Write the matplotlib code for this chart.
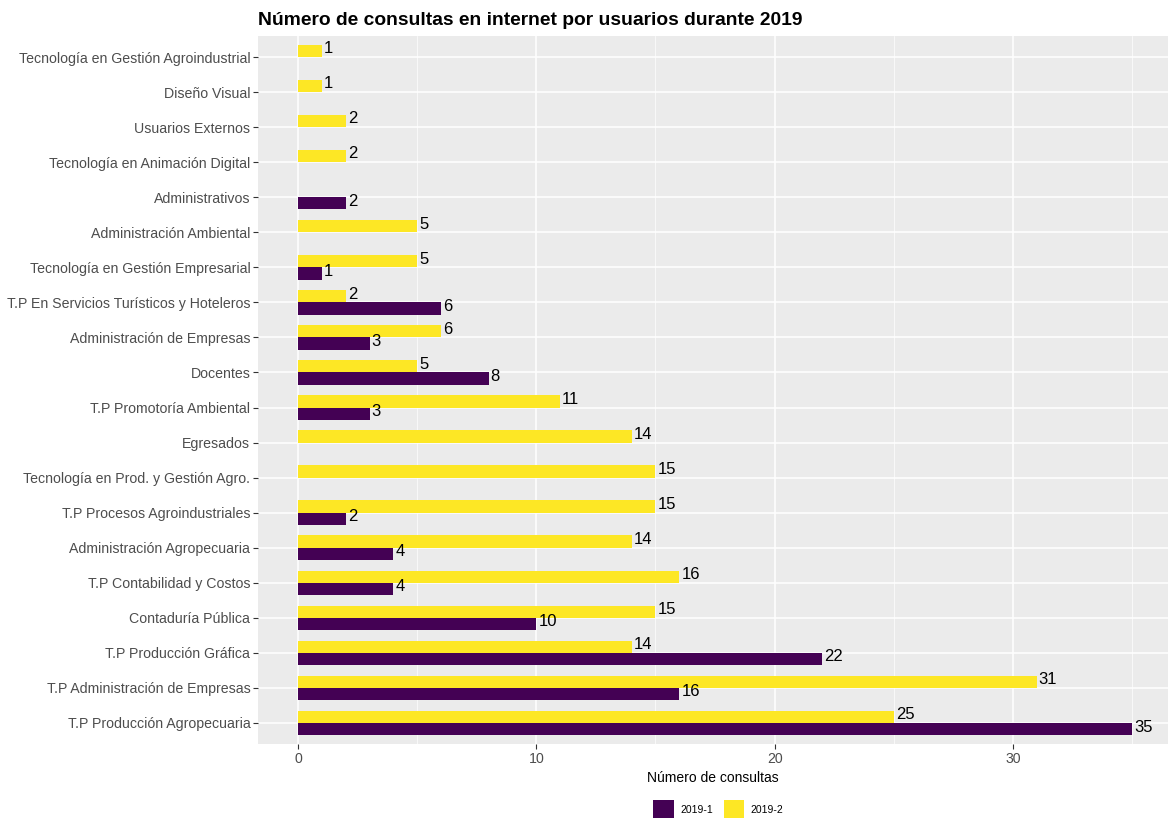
import matplotlib
matplotlib.use("Agg")
import matplotlib.pyplot as plt
from matplotlib.patches import Patch
import numpy as np

categories = [
    "Tecnología en Gestión Agroindustrial",
    "Diseño Visual",
    "Usuarios Externos",
    "Tecnología en Animación Digital",
    "Administrativos",
    "Administración Ambiental",
    "Tecnología en Gestión Empresarial",
    "T.P En Servicios Turísticos y Hoteleros",
    "Administración de Empresas",
    "Docentes",
    "T.P Promotoría Ambiental",
    "Egresados",
    "Tecnología en Prod. y Gestión Agro.",
    "T.P Procesos Agroindustriales",
    "Administración Agropecuaria",
    "T.P Contabilidad y Costos",
    "Contaduría Pública",
    "T.P Producción Gráfica",
    "T.P Administración de Empresas",
    "T.P Producción Agropecuaria",
]
s2019_1 = [None, None, None, None, 2, None, 1, 6, 3, 8, 3, None, None, 2, 4, 4, 10, 22, 16, 35]
s2019_2 = [1, 1, 2, 2, None, 5, 5, 2, 6, 5, 11, 14, 15, 15, 14, 16, 15, 14, 31, 25]
series_names = ["2019-1", "2019-2"]
colors = ["#440154", "#FDE725"]
x_ticks = [0, 10, 20, 30]

plt.rcParams['font.family'] = ['Liberation Sans', 'DejaVu Sans']

fig = plt.figure(figsize=(11.68, 8.18), dpi=100)
ax = fig.add_axes([258/1168, 1 - 744/818, (1168 - 258)/1168, (744 - 36)/818])
ax.set_facecolor("#EBEBEB")

n = len(categories)
ypos = np.arange(n)[::-1]  # top category at highest position
bw = 0.35
for vals, col, off in [(s2019_1, colors[0], -bw/2), (s2019_2, colors[1], bw/2)]:
    for y, v in zip(ypos, vals):
        if v is None:
            continue
        ax.barh(y + off, v, height=bw, color=col, zorder=3)
        ax.annotate(str(v), (v, y + off), xytext=(1.5, 1.5), textcoords="offset points",
                    ha="left", va="center", fontsize=12, color="black", zorder=4)

ax.set_xlim(-1.68, 36.51)
ax.set_ylim(-0.6, n - 1 + 0.6)
ax.set_yticks(ypos)
ax.set_yticklabels(categories)
ax.set_xticks(x_ticks)
ax.set_xticks([5, 15, 25, 35], minor=True)
ax.grid(True, which="major", color="white", linewidth=1.1, zorder=0)
ax.grid(True, which="minor", axis="x", color="white", linewidth=0.5, zorder=0)
ax.set_axisbelow(True)
for sp in ax.spines.values():
    sp.set_visible(False)
ax.tick_params(axis="both", which="major", color="#333333", length=3.5, width=0.8,
               labelsize=10.2, labelcolor="#4D4D4D", pad=2)
ax.tick_params(axis="both", which="minor", length=0)
ax.set_xlabel("Número de consultas", fontsize=10, color="black", labelpad=4)
ax.set_title("Número de consultas en internet por usuarios durante 2019", fontsize=13.9,
             fontweight="bold", loc="left", pad=8)

handles = [Patch(facecolor=c, edgecolor="none") for c in colors]
fig.legend(handles, series_names, loc="lower center", bbox_to_anchor=(0.615, -0.012), ncol=2,
           frameon=False, fontsize=7.5, handlelength=2.0, handleheight=2.3,
           columnspacing=1.0, handletextpad=0.6)

fig.savefig("out.png", dpi=100)
